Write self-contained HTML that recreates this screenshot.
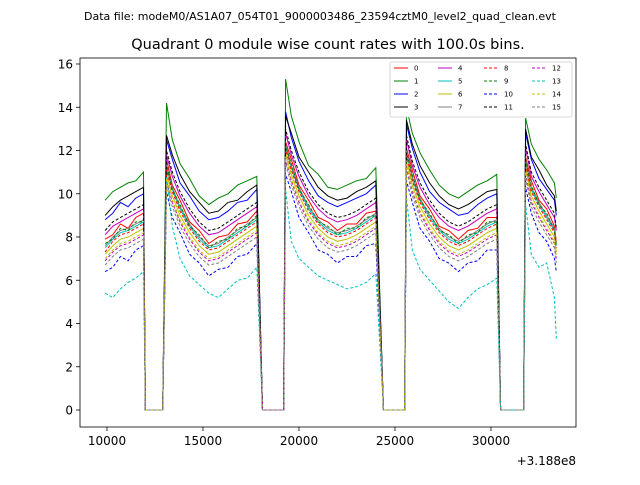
<!DOCTYPE html>
<html><head><meta charset="utf-8"><style>
body{margin:0;background:#fff;}
svg text{font-family:"DejaVu Sans","Liberation Sans",sans-serif;}
</style></head><body>
<svg id="chart" width="640" height="480" viewBox="0 0 640 480">
<text x="320" y="20" font-size="11" text-anchor="middle">Data file: modeM0/AS1A07_054T01_9000003486_23594cztM0_level2_quad_clean.evt</text>
<text x="328" y="49" font-size="14.5" text-anchor="middle">Quadrant 0 module wise count rates with 100.0s bins.</text>
<g id="plot"></g>
<rect x="80" y="58" width="496" height="369" fill="none" stroke="#000" stroke-width="0.8"/>
<g id="xt"></g>
<g id="yt"></g>
<text x="576" y="465" font-size="12" text-anchor="end">+3.188e8</text>
<g id="legend"></g>
</svg>
<script>
const times=[9900,10300,10700,11100,11500,11900,12000,12900,13100,13400,13800,14300,14800,15300,15800,16300,16800,17300,17800,18100,19200,19300,19600,20000,20500,21000,21500,22000,22500,23000,23500,24000,24400,25500,25600,25900,26300,26800,27300,27800,28300,28800,29300,29800,30300,30500,31700,31800,32100,32500,32900,33300,33400];
const s0=[7.9,8.1,8.6,8.4,8.9,9.1,0,0,11.6,10.4,9.7,8.7,8.3,7.7,8.0,8.1,8.6,8.7,9.2,0,0,12.4,11.6,10.4,9.7,8.9,8.7,8.3,8.6,8.6,9.1,9.2,0,0,12.1,11.1,9.9,9.3,8.5,8.3,7.9,8.3,8.4,8.9,8.9,0,0,11.7,10.6,9.7,9.3,8.5,7.8];
const s1=[9.7,10.1,10.3,10.5,10.6,11.0,0,0,14.2,12.5,11.4,10.7,9.9,9.5,9.8,10.0,10.4,10.6,10.8,0,0,15.3,13.6,12.4,11.3,10.9,10.3,10.2,10.4,10.6,10.7,11.2,0,0,14.0,12.8,11.9,11.1,10.4,10.0,9.8,10.1,10.4,10.6,10.9,0,0,13.5,12.3,11.6,11.1,10.5,9.8];
const s2=[8.8,9.1,9.6,9.4,9.8,10.0,0,0,12.5,11.6,10.5,9.9,9.2,8.8,8.9,9.2,9.6,9.7,10.2,0,0,13.8,12.6,11.5,10.6,9.9,9.6,9.4,9.6,9.8,10.0,10.4,0,0,13.2,12.1,11.0,10.1,9.6,9.3,9.0,9.1,9.5,9.8,10.0,0,0,12.8,11.6,10.7,10.2,9.7,9.0];
const s3=[9.0,9.4,9.7,9.9,10.1,10.3,0,0,12.7,11.8,10.9,10.1,9.6,9.1,9.2,9.6,9.7,10.1,10.4,0,0,13.6,12.8,11.7,11.0,10.3,9.9,9.7,9.8,10.1,10.3,10.6,0,0,13.4,12.3,11.3,10.5,9.9,9.5,9.3,9.5,9.8,10.1,10.2,0,0,13.0,11.7,11.1,10.4,9.9,9.2];
const s4=[8.1,8.5,8.7,8.9,9.1,9.3,0,0,11.8,10.8,9.9,9.1,8.5,8.1,8.2,8.5,8.8,9.1,9.4,0,0,12.8,11.8,10.8,9.9,9.3,8.9,8.7,8.8,9.0,9.3,9.6,0,0,12.5,11.3,10.3,9.5,8.9,8.5,8.3,8.5,8.8,9.1,9.3,0,0,12.1,10.8,10.1,9.5,8.9,8.3];
const s5=[7.5,7.9,8.2,8.3,8.5,8.7,0,0,11.2,10.2,9.3,8.5,7.9,7.5,7.6,7.9,8.2,8.5,8.8,0,0,12.2,11.2,10.2,9.3,8.7,8.3,8.1,8.2,8.4,8.7,9.0,0,0,11.9,10.7,9.7,8.9,8.3,7.9,7.7,7.9,8.2,8.5,8.7,0,0,11.5,10.2,9.5,8.9,8.3,7.6];
const s6=[7.2,7.6,7.9,8.0,8.2,8.4,0,0,10.9,9.9,9.0,8.2,7.6,7.2,7.3,7.6,7.9,8.2,8.5,0,0,11.9,10.9,9.9,9.0,8.4,8.0,7.8,7.9,8.1,8.4,8.7,0,0,11.6,10.4,9.4,8.6,8.0,7.6,7.4,7.6,7.9,8.2,8.4,0,0,11.2,9.9,9.2,8.6,8.0,7.3];
const s7=[7.6,8.0,8.3,8.4,8.6,8.8,0,0,11.3,10.3,9.4,8.6,8.0,7.6,7.7,8.0,8.3,8.6,8.9,0,0,12.3,11.3,10.3,9.4,8.8,8.4,8.2,8.3,8.5,8.8,9.1,0,0,12.0,10.8,9.8,9.0,8.4,8.0,7.8,8.0,8.3,8.6,8.8,0,0,11.6,10.3,9.6,9.0,8.4,7.7];
const s8=[7.3,7.8,8.1,8.2,8.4,8.6,0,0,11.1,10.1,9.2,8.4,7.8,7.4,7.5,7.8,8.1,8.4,8.7,0,0,12.1,11.1,10.1,9.2,8.6,8.2,8.0,8.1,8.3,8.6,8.9,0,0,11.8,10.6,9.6,8.8,8.2,7.8,7.6,7.8,8.1,8.4,8.6,0,0,11.4,10.1,9.4,8.8,8.2,7.5];
const s9=[7.7,7.9,8.4,8.3,8.7,8.7,0,0,11.4,10.2,9.5,8.5,8.1,7.5,7.8,7.9,8.4,8.5,9.0,0,0,12.2,11.4,10.2,9.5,8.7,8.5,8.1,8.4,8.4,8.9,9.0,0,0,11.9,10.9,9.7,9.1,8.3,8.1,7.7,8.1,8.2,8.7,8.7,0,0,11.5,10.4,9.5,9.1,8.3,7.6];
const s10=[6.4,6.6,7.1,6.9,7.4,7.6,0,0,10.1,8.9,8.2,7.2,6.8,6.2,6.5,6.6,7.1,7.2,7.7,0,0,10.9,10.1,8.9,8.2,7.4,7.2,6.8,7.1,7.1,7.6,7.7,0,0,10.6,9.6,8.4,7.8,7.0,6.8,6.4,6.8,6.9,7.4,7.4,0,0,10.3,9.1,8.2,7.8,7.0,6.4];
const s11=[8.3,8.7,8.9,9.1,9.3,9.5,0,0,12.0,11.0,10.1,9.3,8.7,8.3,8.4,8.7,9.0,9.3,9.6,0,0,13.0,12.0,11.0,10.1,9.5,9.1,8.9,9.0,9.2,9.5,9.8,0,0,12.7,11.5,10.5,9.7,9.1,8.7,8.5,8.7,9.0,9.3,9.5,0,0,12.3,11.0,10.3,9.7,9.1,8.4];
const s12=[6.9,7.3,7.6,7.7,7.9,8.1,0,0,10.6,9.6,8.7,7.9,7.3,6.9,7.0,7.3,7.6,7.9,8.2,0,0,11.6,10.6,9.6,8.7,8.1,7.7,7.5,7.6,7.8,8.1,8.4,0,0,11.3,10.1,9.1,8.3,7.7,7.3,7.1,7.3,7.6,7.9,8.1,0,0,10.9,9.6,8.9,8.3,7.7,7.0];
const s13=[5.4,5.2,5.6,5.9,6.1,6.4,0,0,10.8,8.5,7.0,6.2,5.8,5.4,5.2,5.6,6.0,6.1,6.6,0,0,10.2,7.8,7.0,6.6,6.2,6.0,5.8,5.6,5.7,5.9,6.3,0,0,9.8,7.4,6.5,6.0,5.5,5.0,4.7,5.2,5.6,5.8,6.1,0,0,9.5,7.2,6.6,6.8,5.2,3.3];
const s14=[7.0,7.4,7.7,7.8,8.0,8.2,0,0,10.7,9.7,8.8,8.0,7.4,7.0,7.1,7.4,7.7,8.0,8.3,0,0,11.7,10.7,9.7,8.8,8.2,7.8,7.6,7.7,7.9,8.2,8.5,0,0,11.4,10.2,9.2,8.4,7.8,7.4,7.2,7.4,7.7,8.0,8.2,0,0,11.0,9.7,9.0,8.4,7.8,7.1];
const s15=[6.7,7.1,7.4,7.5,7.7,7.9,0,0,10.4,9.4,8.5,7.7,7.1,6.7,6.8,7.1,7.4,7.7,8.0,0,0,11.4,10.4,9.4,8.5,7.9,7.5,7.3,7.4,7.6,7.9,8.2,0,0,11.1,9.9,8.9,8.1,7.5,7.1,6.9,7.1,7.4,7.7,7.9,0,0,10.7,9.4,8.7,8.1,7.5,6.8];
const xTicks=[10000,15000,20000,25000,30000];
const yTicks=[0,2,4,6,8,10,12,14,16];
const labels=["0","1","2","3","4","5","6","7","8","9","10","11","12","13","14","15"];
const series=[s0,s1,s2,s3,s4,s5,s6,s7,s8,s9,s10,s11,s12,s13,s14,s15];
const colors=["red","green","blue","black","#bf00bf","#00bfbf","#bfbf00","gray"];
const NS="http://www.w3.org/2000/svg";
const X=t=>107+(t-10000)*96/5000;
const Y=v=>410-v*21.625;
function mk(tag,attrs,parent){const e=document.createElementNS(NS,tag);for(const k in attrs)e.setAttribute(k,attrs[k]);parent.appendChild(e);return e;}
const plot=document.getElementById('plot');
series.forEach((s,i)=>{
  const d=s.map((v,j)=>(j?'L':'M')+X(times[j]).toFixed(1)+','+Y(v).toFixed(1)).join('');
  const p=mk('path',{d:d,fill:'none',stroke:colors[i%8],'stroke-width':1,'stroke-dasharray':i>=8?'3,2':'none'},plot);
  
  
});
const xt=document.getElementById('xt');
xTicks.forEach(t=>{
  const l=mk('line',{x1:X(t),x2:X(t),y1:427,y2:431,stroke:'#000','stroke-width':0.8},xt);
  
  
  const tx=mk('text',{x:X(t),y:445,'font-size':12,'text-anchor':'middle'},xt);
  tx.textContent=t;
  
  
});
const yt=document.getElementById('yt');
yTicks.forEach(v=>{
  const l=mk('line',{x1:76,x2:80,y1:Y(v),y2:Y(v),stroke:'#000','stroke-width':0.8},yt);
  
  
  const tx=mk('text',{x:73,y:Y(v)+4.5,'font-size':12,'text-anchor':'end'},yt);
  tx.textContent=v;
  
  
});
const lg=document.getElementById('legend');
const box=mk('rect',{x:390,y:62,width:182,height:55,fill:'#fff',stroke:'#ccc','stroke-width':0.8,rx:2},lg);


const colX=[394,438,484,532];
labels.forEach((lab,i)=>{
  const c=Math.floor(i/4),r=i%4;const x=colX[c],y=68+r*13;
  const l=mk('line',{x1:x,x2:x+14,y1:y,y2:y,stroke:colors[i%8],'stroke-width':1,'stroke-dasharray':i>=8?'3,2':'none'},lg);
  
  
  const t=mk('text',{x:x+20,y:y+2.5,'font-size':7},lg);
  t.textContent=lab;
  
  
});
</script>
</body></html>
